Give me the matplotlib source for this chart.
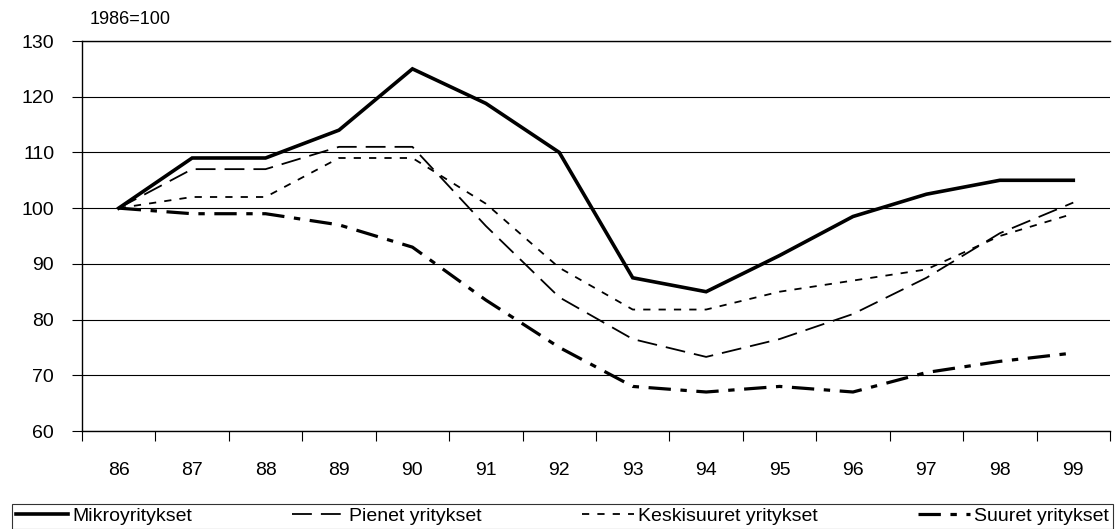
import numpy as np
import matplotlib
matplotlib.use('Agg')
import matplotlib.pyplot as plt
from matplotlib.ticker import FixedLocator

plt.rcParams['font.family'] = ['Liberation Sans', 'DejaVu Sans']

years = ['86', '87', '88', '89', '90', '91', '92', '93', '94', '95', '96', '97', '98', '99']

mikro = [100, 109, 109, 114, 125, 118.8, 110, 87.5, 85, 91.5, 98.5, 102.5, 105, 105]
pienet = [100, 107, 107, 111, 111, 96.8, 84, 76.5, 73.3, 76.5, 81, 87.5, 95.5, 101]
keski = [100, 102, 102, 109, 109, 100.8, 89.3, 81.8, 81.8, 85, 87, 89, 95, 99]
suuret = [100, 99, 99, 97, 93, 83.5, 75, 68, 67, 68, 67, 70.5, 72.5, 74]

labels = ['Mikroyritykset', 'Pienet yritykset', 'Keskisuuret yritykset', 'Suuret yritykset']

fig = plt.figure(figsize=(11.18, 5.29), dpi=100)
ax = fig.add_axes([82 / 1118, 1 - 431 / 529, (1110 - 82) / 1118, (431 - 41) / 529])

x = np.arange(len(years))

l1, = ax.plot(x, mikro, color='black', lw=2.6, solid_joinstyle='miter')
l2, = ax.plot(x, pienet, color='black', lw=1.3, dashes=(11, 5))
l3, = ax.plot(x, keski, color='black', lw=1.3, dashes=(4, 4.5))
l4, = ax.plot(x, suuret, color='black', lw=2.3, dashes=(7, 3, 2, 3))

ax.set_xlim(-0.5, len(years) - 0.5)
ax.set_ylim(60, 130)
ax.set_yticks(np.arange(60, 131, 10))
ax.yaxis.grid(True, color='black', lw=0.8)
ax.set_axisbelow(True)

# category labels in the middle, tick marks on the category borders
ax.xaxis.set_major_locator(FixedLocator(x))
ax.set_xticklabels(years)
ax.xaxis.set_minor_locator(FixedLocator(np.arange(-0.5, len(years), 1.0)))
ax.xaxis.set_tick_params(which='major', length=0, pad=22, labelsize=14)
ax.xaxis.set_tick_params(which='minor', length=7, width=0.8, direction='out')
ax.yaxis.set_tick_params(length=7, width=0.8, direction='out', pad=13, labelsize=14)

ax.spines['right'].set_visible(False)
for s in ['left', 'bottom', 'top']:
    ax.spines[s].set_linewidth(1.0)

fig.text(90 / 1118, 1 - 20 / 529, '1986=100', fontsize=13, va='center', ha='left')

leg = fig.legend([l1, l2, l3, l4], labels, loc='lower left',
                 bbox_to_anchor=(12 / 1118, 0.0, (1113 - 12) / 1118, 29 / 529),
                 mode='expand', ncol=4, fontsize=14,
                 frameon=True, fancybox=False,
                 handlelength=2.7, handletextpad=0.2, columnspacing=0.6,
                 borderpad=0.2, borderaxespad=0.0)
leg.get_frame().set_edgecolor('black')
leg.get_frame().set_linewidth(0.8)

fig.savefig('out.png', dpi=100)
